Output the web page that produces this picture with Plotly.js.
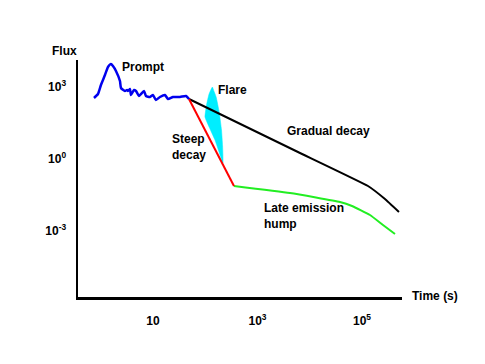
<!DOCTYPE html>
<html>
<head>
<meta charset="utf-8">
<script src="https://cdn.plot.ly/plotly-3.0.1.min.js"></script>
<style>
  html, body { margin: 0; padding: 0; background: #fff; }
  #chart { width: 485px; height: 364px; }
</style>
</head>
<body>
<div id="chart"></div>
<script>
// ---- Data (time in s, flux in arbitrary units) ----
const promptTime = [0.743, 0.885, 1.01, 1.205, 1.376, 1.571, 1.715, 1.957, 2.334, 2.442, 2.911, 3.177, 3.324, 3.631, 3.794, 4.328, 4.729, 5.395, 5.894, 6.725, 7.35, 8.77, 10, 11.41, 13.6, 16.98, 19.37, 24.15, 32.9, 42.9, 48.9];
const promptFlux = [348, 511, 1212, 3162, 6813, 9085, 7499, 4642, 1778, 908, 681, 750, 681, 825, 464, 750, 681, 422, 511, 681, 422, 383, 464, 287, 383, 464, 316, 383, 383, 422, 316];

const steepTime = [48.9, 354.8];
const steepFlux = [316, 0.075];

const gradualTime = [48.9, 5957, 130300, 275400, 510500];
const gradualFlux = [316, 1.958, 0.075, 0.0215, 0.00619];

const lateTime = [354.8, 4188, 37930, 64400, 142200, 252400, 428500];
const lateFlux = [0.075, 0.0383, 0.01616, 0.01101, 0.004642, 0.001778, 0.00075];

const flareTime = [137, 146, 162, 185, 205, 215, 218.8, 153.8, 98.9, 106, 117.9, 137];
const flareFlux = [1000, 700, 383, 90.8, 16.2, 3.5, 0.681, 6.19, 56.2, 180, 500, 1000];

const xTickVals = [10, 1000, 100000];
const xTickText = ['10', '10<sup>3</sup>', '10<sup>5</sup>'];
const yTickVals = [1000, 1, 0.001];
const yTickText = ['10<sup>3</sup>', '10<sup>0</sup>', '10<sup>-3</sup>'];

// ---- Layout helpers ----
const L = 78, R = 402, T = 60, B = 297;
const W = 485, H = 364;
const px = x => (x - L) / (R - L);
const py = y => (B - y) / (B - T);
const FONT = 'Liberation Sans, Arial, sans-serif';

function label(text, x, y, xanchor) {
  return {
    text: '<b>' + text + '</b>', xref: 'paper', yref: 'paper',
    x: px(x), y: py(y), xanchor: xanchor || 'center', yanchor: 'middle',
    showarrow: false, align: 'left',
    font: { family: FONT, size: 12, color: '#000' }
  };
}

const traces = [
  { x: flareTime, y: flareFlux, type: 'scatter', mode: 'lines', fill: 'toself',
    fillcolor: '#00EEFF', line: { color: '#00EEFF', width: 0.5, shape: 'spline', smoothing: 0.3 }, hoverinfo: 'skip' },
  { x: gradualTime, y: gradualFlux, type: 'scatter', mode: 'lines',
    line: { color: '#000000', width: 2, shape: 'spline', smoothing: 0.3 } },
  { x: lateTime, y: lateFlux, type: 'scatter', mode: 'lines',
    line: { color: '#22EE22', width: 2, shape: 'spline', smoothing: 0.4 } },
  { x: steepTime, y: steepFlux, type: 'scatter', mode: 'lines',
    line: { color: '#FF0000', width: 2 } },
  { x: promptTime, y: promptFlux, type: 'scatter', mode: 'lines',
    line: { color: '#0000EE', width: 2.5, shape: 'spline', smoothing: 0.5 } }
];

const layout = {
  width: W, height: H,
  margin: { l: L, r: W - R, t: T, b: H - B, pad: 0 },
  paper_bgcolor: '#fff', plot_bgcolor: '#fff',
  showlegend: false,
  xaxis: {
    type: 'log', range: [-0.435, 5.766],
    showgrid: false, zeroline: false,
    showline: true, linecolor: '#000', linewidth: 2.5,
    tickmode: 'array', tickvals: xTickVals, ticktext: xTickText,
    ticks: 'outside', ticklen: 11, tickcolor: 'rgba(0,0,0,0)',
    tickfont: { family: FONT, size: 12, color: '#000', weight: 'bold' }
  },
  yaxis: {
    type: 'log', range: [-5.75, 4.125],
    showgrid: false, zeroline: false,
    showline: true, linecolor: '#000', linewidth: 2.5,
    tickmode: 'array', tickvals: yTickVals, ticktext: yTickText,
    ticks: 'outside', ticklen: 7, tickcolor: 'rgba(0,0,0,0)',
    tickfont: { family: FONT, size: 12, color: '#000', weight: 'bold' }
  },
  annotations: [
    label('Flux', 64, 51),
    label('Prompt', 120, 67, 'left'),
    label('Flare', 216, 90, 'left'),
    label('Steep<br>decay', 170, 147, 'left'),
    label('Gradual decay', 285, 131, 'left'),
    label('Late emission<br>hump', 262, 216, 'left'),
    label('Time (s)', 410, 296, 'left')
  ]
};

Plotly.newPlot('chart', traces, layout, { displayModeBar: false, staticPlot: true });
</script>
</body>
</html>
